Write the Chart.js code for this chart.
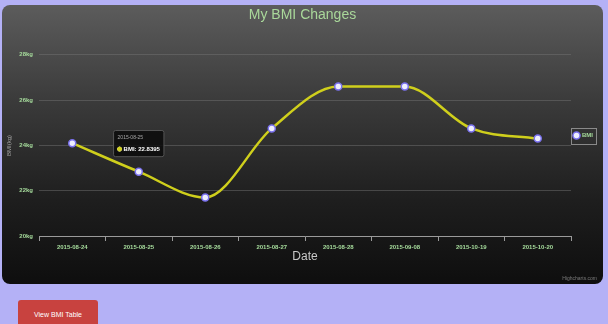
<!DOCTYPE html>
<html>
<head>
<meta charset="utf-8">
<script src="https://cdn.jsdelivr.net/npm/chart.js@4.4.1/dist/chart.umd.min.js"></script>
<style>
  body { margin: 0; width: 608px; height: 324px; overflow: hidden; background: #b4b1f6;
         font-family: 'Liberation Sans', sans-serif; }
  #panel { position: absolute; left: 2px; top: 5px; width: 601px; height: 279px; border-radius: 8px;
           background: linear-gradient(to bottom, #5c5c5c 0%, #3a3a3a 35%, #1e1e1e 70%, #0e0e0e 100%); }
  #panel canvas { position: absolute; left: 0; top: 0; }
  #credit { position: absolute; right: 6px; bottom: 3px; font-size: 5px; color: #7a7a7a; }
  #btn { position: absolute; left: 18px; top: 300px; width: 80px; height: 30px; border-radius: 3px;
         background: #c8423f; color: #fff; font-size: 7px; text-align: center; line-height: 30px; }
</style>
</head>
<body>
<div id="panel">
  <canvas id="bmiChart" width="601" height="279"></canvas>
  <div id="credit">Highcharts.com</div>
</div>
<div id="btn">View BMI Table</div>
<script>
// valores
const dates = ['2015-08-24', '2015-08-25', '2015-08-26', '2015-08-27', '2015-08-28', '2015-09-08', '2015-10-19', '2015-10-20'];
const bmiValues = [24.1, 22.8395, 21.7, 24.75, 26.6, 26.6, 24.75, 24.3];
const yTicks = [20, 22, 24, 26, 28];

const FONT = "'Liberation Sans', sans-serif";
const green = '#a6dc9c';

// borde alrededor de la leyenda (estilo highcharts)
const legendBorder = {
    id: 'legendBorder',
    afterDraw: (chart) => {
        const boxes = chart.legend && chart.legend.legendHitBoxes;
        if (!boxes || !boxes.length) return;
        const b = boxes[0];
        const ctx = chart.ctx;
        ctx.save();
        ctx.strokeStyle = '#8a8a8a';
        ctx.lineWidth = 1;
        ctx.strokeRect(Math.round(b.left - 3) + 0.5, Math.round(b.top - 5) + 0.5, Math.round(b.width + 6), Math.round(b.height + 10));
        ctx.restore();
    }
};

const ctx = document.getElementById('bmiChart').getContext('2d');
const chart = new Chart(ctx, {
    type: 'line',
    data: {
        labels: dates,
        datasets: [{
            label: 'BMI',
            data: bmiValues,
            borderColor: '#cfcf1c',
            borderWidth: 2.5,
            cubicInterpolationMode: 'monotone',
            pointStyle: 'circle',
            pointRadius: 3.5,
            pointHoverRadius: 3.5,
            pointBackgroundColor: '#eeeeff',
            pointBorderColor: '#7b72f0',
            pointBorderWidth: 1.5,
            pointHoverBackgroundColor: '#eeeeff',
            pointHoverBorderColor: '#7b72f0',
            pointHoverBorderWidth: 1.5
        }]
    },
    options: {
        responsive: false,
        animation: false,
        events: [],
        layout: { padding: { left: 0, right: 0, top: 0, bottom: 18 } },
        plugins: {
            title: {
                display: true,
                text: 'My BMI Changes',
                color: '#a9d89a',
                font: { family: FONT, size: 14, weight: 'normal' },
                padding: { top: 2, bottom: 31 }
            },
            legend: {
                position: 'right',
                labels: {
                    usePointStyle: true,
                    boxWidth: 5,
                    boxHeight: 5,
                    padding: 3,
                    color: green,
                    font: { family: FONT, size: 6, weight: 'bold' }
                }
            },
            tooltip: {
                enabled: true,
                yAlign: 'bottom',
                xAlign: 'center',
                caretSize: 0,
                caretPadding: 15,
                backgroundColor: 'rgba(10,10,10,0.82)',
                borderColor: '#555',
                borderWidth: 1,
                cornerRadius: 2,
                padding: { left: 4, right: 4, top: 4, bottom: 4 },
                titleColor: '#a8a8a8',
                titleFont: { family: FONT, size: 5, weight: 'normal' },
                titleMarginBottom: 5,
                bodyColor: '#ffffff',
                bodyFont: { family: FONT, size: 6, weight: 'bold' },
                usePointStyle: true,
                boxWidth: 4,
                boxHeight: 4,
                callbacks: {
                    label: (item) => 'BMI: ' + item.raw,
                    labelPointStyle: () => ({ pointStyle: 'circle', rotation: 0 }),
                    labelColor: () => ({ borderColor: '#cfcf1c', backgroundColor: '#cfcf1c' })
                }
            }
        },
        scales: {
            x: {
                offset: true,
                afterFit: (scale) => { scale.height = 30; },
                grid: { display: true, offset: true, drawOnChartArea: false, tickLength: 5, color: '#9a9a9a' },
                border: { color: '#9a9a9a' },
                ticks: { color: green, padding: 3, maxRotation: 0, autoSkip: false, font: { family: FONT, size: 6, weight: 'bold' } },
                title: {
                    display: true,
                    text: 'Date',
                    color: '#c8c8c8',
                    font: { family: FONT, size: 12 },
                    padding: { top: 0, bottom: 2 }
                }
            },
            y: {
                min: 20,
                max: 28,
                afterFit: (scale) => { scale.width = 37; },
                afterBuildTicks: (scale) => { scale.ticks = yTicks.map(v => ({ value: v })); },
                grid: { color: 'rgba(120,120,120,0.45)', drawTicks: false },
                border: { display: false },
                ticks: {
                    color: green,
                    padding: 6,
                    font: { family: FONT, size: 6, weight: 'bold' },
                    callback: (v) => v + 'kg'
                },
                title: {
                    display: true,
                    text: 'BMI(kg)',
                    color: '#a0a0a0',
                    font: { family: FONT, size: 6 },
                    padding: { top: 4, bottom: 0 }
                }
            }
        }
    },
    plugins: [legendBorder]
});

// tooltip fijo sobre el segundo punto, como en la captura
const pt = chart.getDatasetMeta(0).data[1];
chart.setActiveElements([{ datasetIndex: 0, index: 1 }]);
chart.tooltip.setActiveElements([{ datasetIndex: 0, index: 1 }], { x: pt.x, y: pt.y });
chart.update('none');
</script>
</body>
</html>
